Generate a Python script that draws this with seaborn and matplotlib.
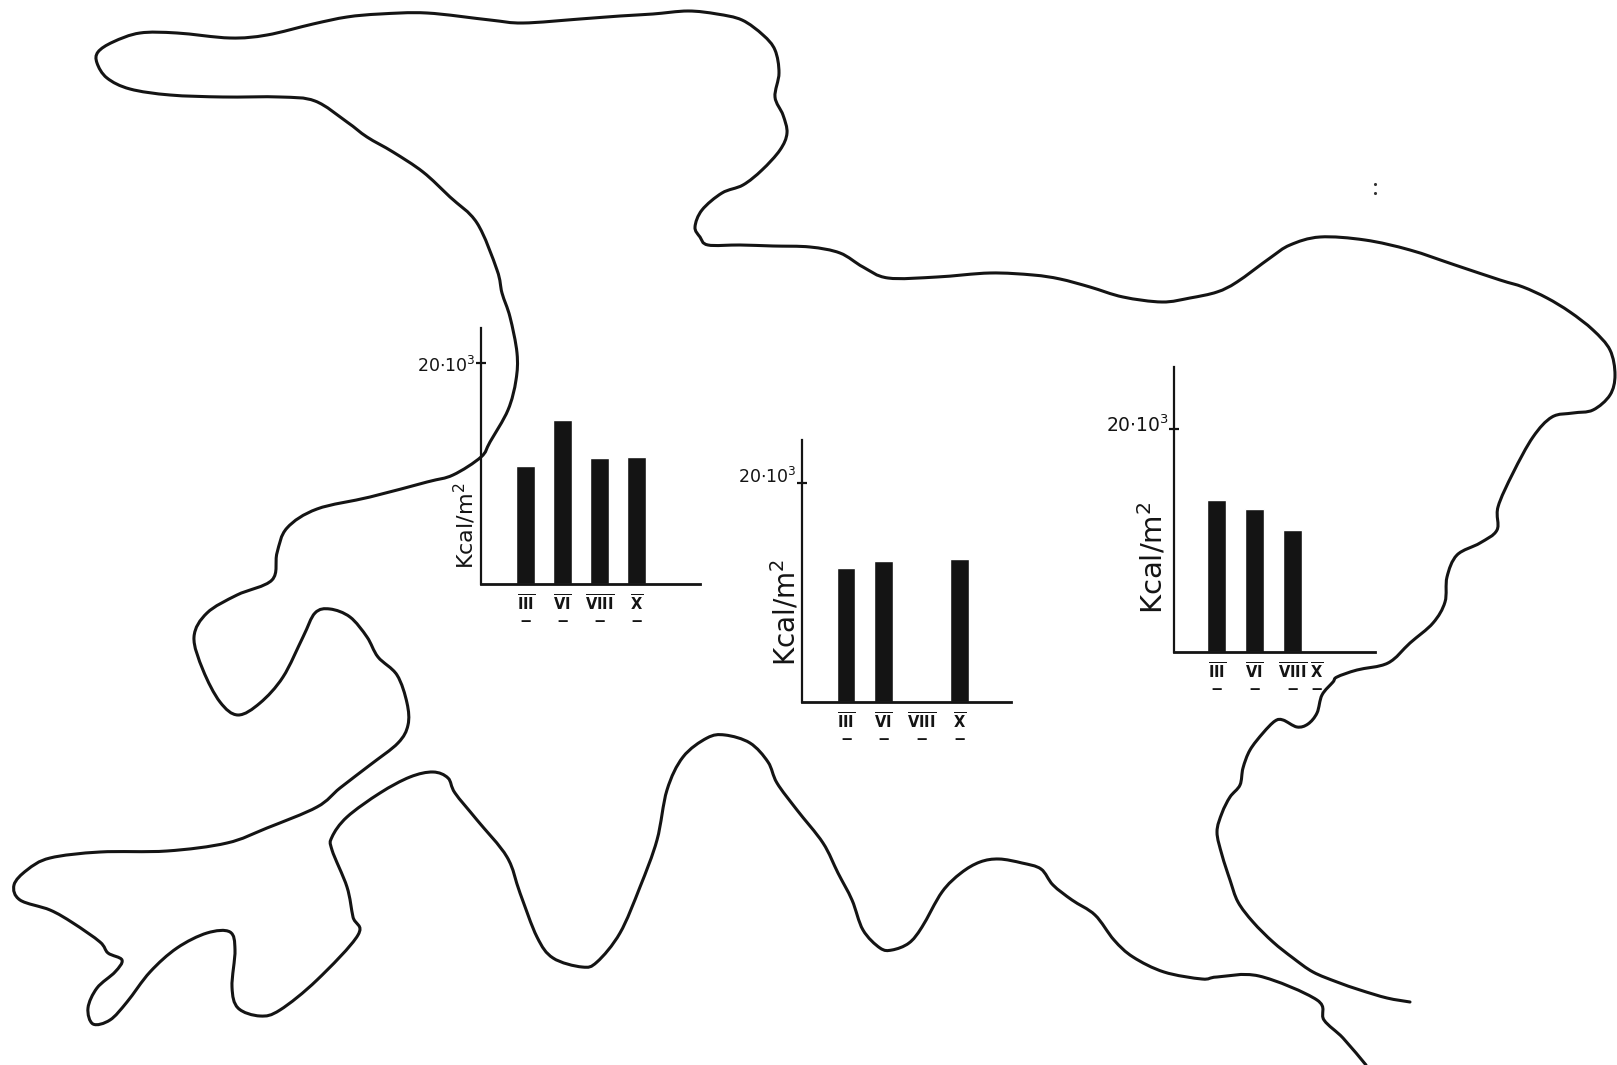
import numpy as np
import pandas as pd
import matplotlib
matplotlib.use("Agg")
import matplotlib.pyplot as plt
from matplotlib.patches import PathPatch
from matplotlib.path import Path
from matplotlib.transforms import ScaledTranslation
import seaborn as sns

W, H = 1617, 1065

# coastline (pixels of the 1617x1065 sheet)
coast_x = [1410,1387,1360,1337,1313,1293,1273,1253,1238,1230,1222,1217,1222,1230,1240,1243,1250,1263,1275,1283,1297,1308,1317,1322,1333,
           1337,1357,1388,1410,1433,1445,1447,1457,1480,1497,1498,1513,1533,1552,1573,1593,1610,1615,1610,1593,1570,1547,1523,1500,
           1455,1410,1365,1320,1290,1270,1237,1217,1190,1162,1123,1090,1060,1033,990,937,888,
           863,840,810,773,740,708,700,695,702,722,743,762,780,787,783,775,779,775,763,742,717,688,653,620,580,523,
           490,427,380,347,313,267,230,177,140,113,98,97,107,130,170,223,280,315,347,367,393,423,450,477,497,502,510,
           517,516,508,490,481,453,427,370,317,287,277,272,237,207,194,203,220,238,260,283,303,315,330,350,367,378,397,407,408,
           398,370,340,317,267,227,167,100,50,27,14,20,50,73,100,108,122,115,97,88,93,110,127,150,177,207,230,235,232,238,260,280,317,358,
           353,347,332,332,347,380,410,433,448,455,477,507,520,537,553,582,597,620,640,657,667,683,707,725,750,768,777,797,
           823,838,852,863,880,892,909,922,942,961,980,999,1022,1041,1053,1072,1095,1114,1133,1164,1202,1217,1259,1317,1324,1343,1366]
coast_y = [1002,998,990,982,972,958,942,922,902,880,855,832,813,797,785,768,750,733,721,720,727,724,713,695,682,
           677,670,663,643,623,602,577,555,543,530,507,473,437,417,413,410,395,375,350,330,312,298,287,280,
           265,250,240,237,245,258,282,292,298,302,297,287,279,275,273,277,278,
           267,253,247,246,245,245,237,227,210,193,185,170,150,133,115,97,73,50,35,20,14,11,14,16,19,23,
           20,13,14,17,24,35,38,33,33,42,52,63,78,89,95,97,97,101,122,137,152,172,197,223,270,293,317,
           353,380,410,442,457,475,482,497,509,528,553,580,595,613,637,670,702,715,703,677,637,613,609,617,637,657,675,703,725,
           743,765,788,807,828,843,851,852,858,870,885,900,910,923,942,953,960,972,988,1008,1024,1020,1002,972,948,933,932,950,987,1008,1016,1010,980,935,
           917,887,850,837,817,793,777,772,778,793,820,857,893,937,958,967,962,933,887,840,790,757,738,735,743,762,783,810,
           843,873,900,930,948,950,943,927,892,873,862,859,863,869,885,900,915,940,957,972,979,977,976,1000,1020,1038,1065]

speck_x = [1375, 1375]
speck_y = [184, 193]

# bar charts: energy per lake station, unit = 10^3 Kcal/m2
months_a = ["III", "VI", "VIII", "X"]
values_a = [10.7, 14.8, 11.4, 11.5]
values_b = [12.2, 12.9, np.nan, 13.1]
values_c = [13.6, 12.8, 10.9, np.nan]
tick_value = 20
y_text = r"Kcal/m$^{2}$"
tick_text = r"$20{\cdot}10^{3}$"
under = "\n" + r"$\mathbf{\u2014}$".replace(r"\u2014", "-")
month_labels = [r"$\overline{\mathbf{III}}$" + under, r"$\overline{\mathbf{VI}}$" + under,
                r"$\overline{\mathbf{VIII}}$" + under, r"$\overline{\mathbf{X}}$" + under]

sns.set_theme(style="white")
plt.rcParams["font.family"] = ["DejaVu Sans"]
plt.rcParams["mathtext.default"] = "regular"
INK = "#141414"

fig = plt.figure(figsize=(W / 100, H / 100), dpi=100, facecolor="white")

base = fig.add_axes([0, 0, 1, 1])


def smooth_path(xs, ys):
    """A curve through every traced point (Catmull-Rom segments as Beziers)."""
    p = np.column_stack([xs, ys]).astype(float)
    verts, codes = [p[0]], [Path.MOVETO]
    for i in range(len(p) - 1):
        p0, p1, p2, p3 = p[max(i - 1, 0)], p[i], p[i + 1], p[min(i + 2, len(p) - 1)]
        verts += [p1 + (p2 - p0) / 6, p2 - (p3 - p1) / 6, p2]
        codes += [Path.CURVE4] * 3
    return Path(verts, codes)


base.add_patch(PathPatch(smooth_path(coast_x, coast_y), fill=False, edgecolor=INK,
                         linewidth=2.2, joinstyle="round", capstyle="round"))
sns.scatterplot(x=speck_x, y=speck_y, color="#333333", s=5, linewidth=0, ax=base)
base.set_xlim(0, W)
base.set_ylim(H, 0)
base.axis("off")


def panel(values, left, right, top, bottom, tick_y, centre0, spacing, width,
          tick_size, lab_size, lab_right, lab_mid, lift, ticks=(0, 1, 2, 3)):
    ax = fig.add_axes([left / W, 1 - bottom / H, (right - left) / W, (bottom - top) / H])
    ax.patch.set_alpha(0)
    sns.barplot(x=months_a, y=values, order=months_a, color=INK, saturation=1,
                width=width, errorbar=None, ax=ax)
    ax.set_xlim((left - centre0) / spacing, (right - centre0) / spacing)
    ax.set_ylim(0, tick_value * (bottom - top) / (bottom - tick_y))
    sns.despine(ax=ax)
    ax.spines["left"].set_linewidth(1.6)
    ax.spines["bottom"].set_linewidth(2.0)
    ax.spines["left"].set_color(INK)
    ax.spines["bottom"].set_color(INK)
    ax.set_xticks(list(ticks))
    ax.set_xticklabels(month_labels, fontsize=10.5, color=INK, linespacing=0.8)
    ax.set_yticks([tick_value])
    ax.set_yticklabels([tick_text], fontsize=tick_size, color=INK)
    ax.tick_params(axis="x", length=0, pad=7)
    ax.tick_params(axis="y", length=7, width=1.6, direction="inout", color=INK, pad=0, left=True)
    for lab in ax.get_yticklabels():
        lab.set_transform(lab.get_transform() + ScaledTranslation(0, lift / 100, fig.dpi_scale_trans))
    ax.set_xlabel("")
    ax.set_ylabel(y_text, fontsize=lab_size, color=INK)
    ax.yaxis.set_label_coords((lab_right - left) / (right - left), (bottom - lab_mid) / (bottom - top))
    return ax


panel(values_a, 481, 700, 328, 584, 363, 525.7, 37.0, 0.52, 12.5, 16, 478, 526, -1)
panel(values_b, 802, 1011, 440, 702, 483, 846.0, 37.8, 0.5, 12.5, 20, 801, 612, 8)
panel(values_c, 1174, 1375, 367, 652, 429, 1216.7, 38.0, 0.5, 13.5, 21, 1168, 558, 6,
      ticks=(0, 1, 2, 2.62))

fig.savefig("out.png", dpi=100, facecolor="white")
